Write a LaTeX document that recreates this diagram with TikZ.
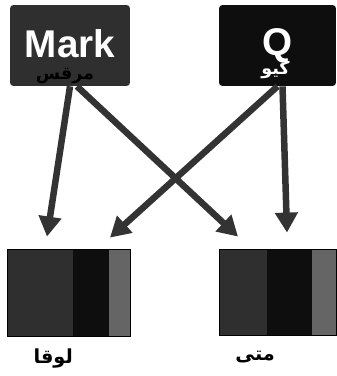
\documentclass[tikz,border=0pt]{standalone}
\usepackage{fontspec}
\usetikzlibrary{arrows.meta,positioning,calc}
\TeXXeTstate=1
\newfontfamily\headfont{Liberation Sans}
\newfontfamily\arabicfont[Script=Arabic]{DejaVu Sans}
\definecolor{darkbox}{HTML}{2F2F2F}
\definecolor{blackbox}{HTML}{0E0E0E}
\definecolor{midgray}{HTML}{656565}
\definecolor{arrowgray}{HTML}{333333}
\tikzset{
  namebox/.style={rectangle, rounded corners=2pt, inner sep=0pt, text=white,
    font=\headfont\bfseries\fontsize{22}{22}\selectfont},
  stripebox/.style={rectangle, draw=black, line width=0.5pt, inner sep=0pt},
  arlabel/.style={inner sep=0pt, font=\arabicfont\bfseries\fontsize{10}{10}\selectfont},
  link/.style={draw=arrowgray, line width=0.13cm, -{Triangle[length=0.4cm,width=0.44cm]}, arrowgray}
}

\begin{document}
\begin{tikzpicture}[x=0.02cm, y=0.02cm]
    \useasboundingbox (0,0) rectangle (337,376);

    % top boxes
    \node[namebox, fill=darkbox, minimum width=2.4cm, minimum height=1.62cm] (mark) at (70,330.5) {\raisebox{2.5pt}{Mark}};
    \node[namebox, fill=blackbox, minimum width=2.34cm, minimum height=1.62cm] (q) at (277.5,330.5) {\raisebox{3pt}{Q}};
    \node[arlabel, text=black] (markar) at ($(mark.south)+(-5,10)$) {\beginR مرقس\endR};
    \node[arlabel, text=white] (qar) at ($(q.south)+(-2,16)$) {\beginR كيو\endR};

    % bottom boxes
    \node[stripebox, minimum width=2.44cm, minimum height=1.72cm] (luke) at (69,83) {};
    \node[stripebox, minimum width=2.32cm, minimum height=1.7cm] (matthew) at (278,83.5) {};
    \fill[darkbox] (luke.south west) rectangle ($(luke.north west)+(65,0)$);
    \fill[blackbox] ($(luke.south west)+(65,0)$) rectangle ($(luke.north west)+(101,0)$);
    \fill[midgray] ($(luke.south west)+(101,0)$) rectangle (luke.north east);
    \fill[darkbox] (matthew.south west) rectangle ($(matthew.north west)+(47,0)$);
    \fill[blackbox] ($(matthew.south west)+(47,0)$) rectangle ($(matthew.north west)+(92,0)$);
    \fill[midgray] ($(matthew.south west)+(92,0)$) rectangle (matthew.north east);
    \draw[line width=0.6pt] (luke.south west) rectangle (luke.north east);
    \draw[line width=0.6pt] (matthew.south west) rectangle (matthew.north east);

    % names
    \node[arlabel, font=\arabicfont\bfseries\fontsize{11}{11}\selectfont, below=0.24cm of luke, xshift=-9] (lukename) {\beginR لوقا\endR};
    \node[arlabel, font=\arabicfont\bfseries\fontsize{11}{11}\selectfont, below=0.3cm of matthew, xshift=-13] (matthewname) {\beginR متى\endR};

    % connectors
    \draw[link] (mark.south) -- ($(luke.north)+(-22,13)$);
    \draw[link] ($(mark.south)+(7,0)$) -- ($(matthew.north)+(-40,13)$);
    \draw[link] (q.south) -- ($(luke.north)+(41,12)$);
    \draw[link] ($(q.south)+(5,0)$) -- ($(matthew.north)+(9,17)$);
\end{tikzpicture}
\end{document}
